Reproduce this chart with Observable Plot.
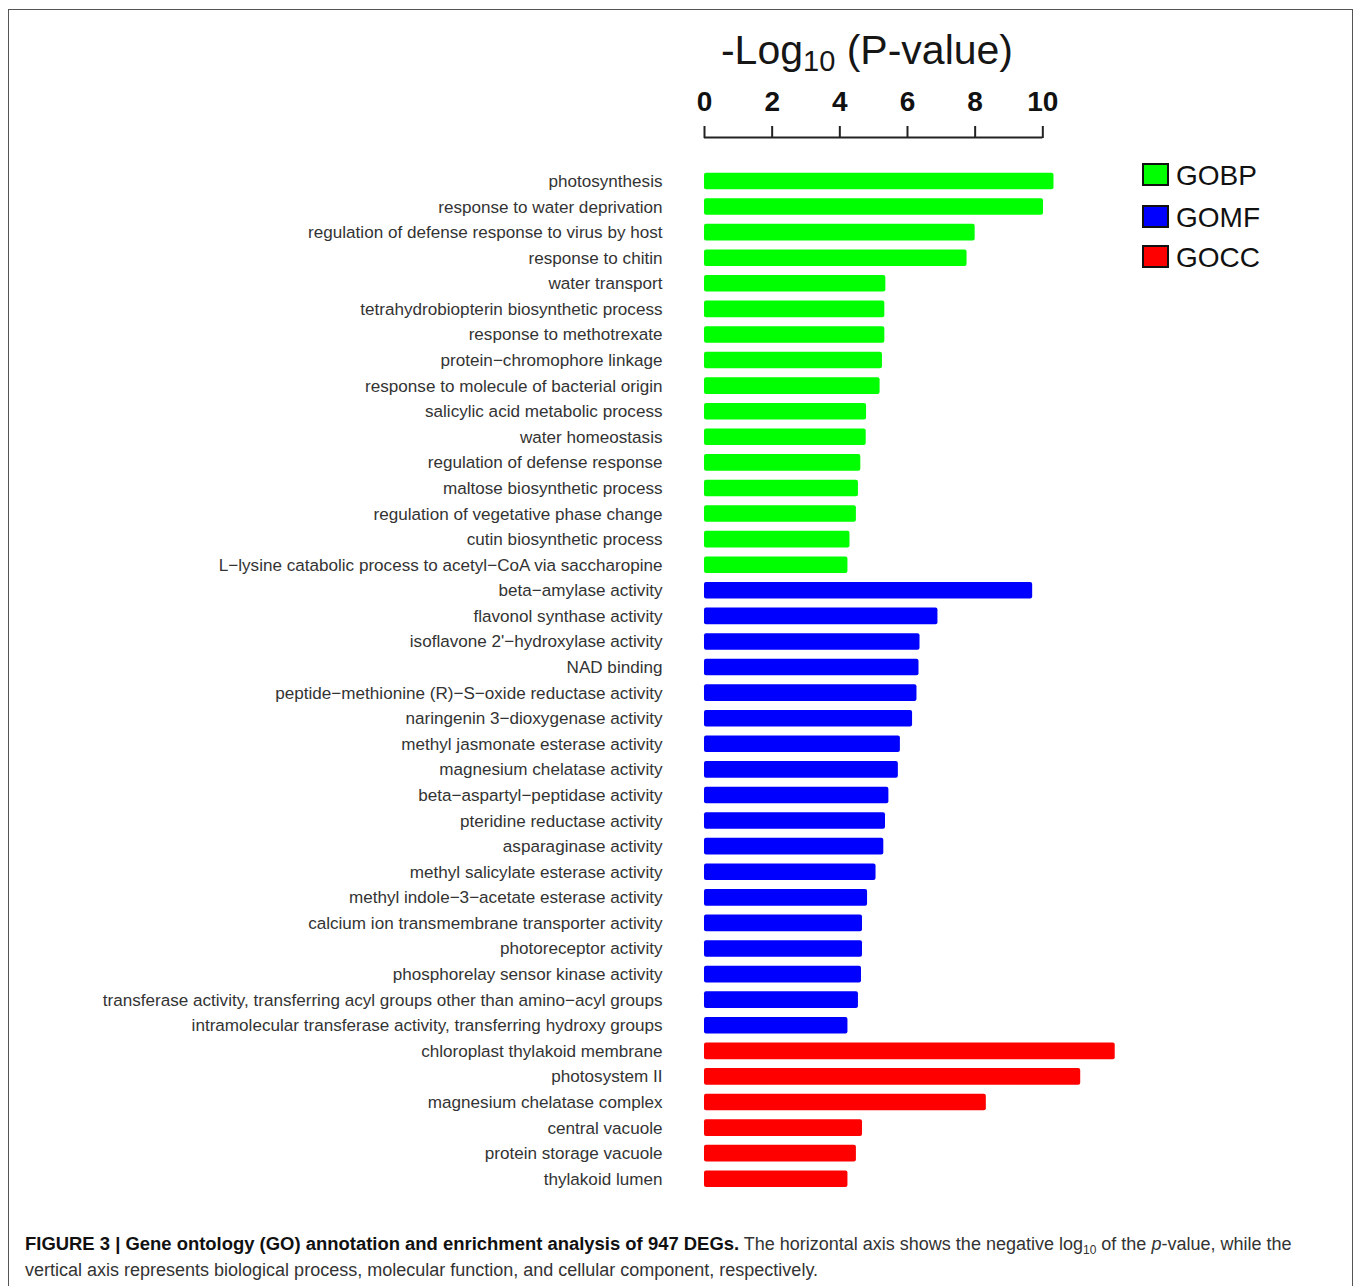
<!DOCTYPE html>
<html><head><meta charset="utf-8">
<script src="https://cdn.jsdelivr.net/npm/d3@7"></script>
<script src="https://cdn.jsdelivr.net/npm/@observablehq/plot@0.6"></script>
<style>
html,body{margin:0;padding:0;background:#fff;overflow:hidden;}
body{width:1357px;height:1286px;position:relative;font-family:"Liberation Sans",Arial,Helvetica,sans-serif;}
#frame{position:absolute;left:8px;top:9px;width:1345px;height:1300px;border:1px solid #555;box-sizing:border-box;}
#title{position:absolute;left:600px;width:534px;top:30px;text-align:center;font-size:41px;line-height:40px;color:#161616;white-space:nowrap;}
#title .sub{font-size:29px;position:relative;top:7px;}
#axis{position:absolute;left:0;top:0;}
#bars{position:absolute;left:0;top:145px;}
#legend{position:absolute;left:1142px;top:0;width:140px;height:300px;}
.lg-box{position:absolute;left:0;width:27px;height:23px;border:2px solid #111;box-sizing:border-box;}
.lg-text{position:absolute;left:34px;font-size:28px;line-height:28px;color:#111;white-space:nowrap;}
#caption{position:absolute;left:25px;top:1231px;font-size:18px;line-height:26px;color:#333;white-space:nowrap;}
#caption b{color:#111;font-size:18.45px;}
#caption .sub{font-size:12px;position:relative;top:4px;line-height:0;}
</style>
</head><body>
<div id="frame"></div>
<div id="title">-Log<span class="sub">10</span> (P-value)</div>
<div id="axis"></div>
<div id="bars"></div>
<div id="legend"></div>
<div id="caption"><b>FIGURE 3 | Gene ontology (GO) annotation and enrichment analysis of 947 DEGs.</b> The horizontal axis shows the negative log<span class="sub">10</span> of the <i>p</i>-value, while the<br>vertical axis represents biological process, molecular function, and cellular component, respectively.</div>
<script>
// ---- data ----
const groupNames = ["GOBP", "GOMF", "GOCC"];
const groupColors = ["#00ff00", "#0000ff", "#ff0000"];

const gobpTerms = [
  "photosynthesis",
  "response to water deprivation",
  "regulation of defense response to virus by host",
  "response to chitin",
  "water transport",
  "tetrahydrobiopterin biosynthetic process",
  "response to methotrexate",
  "protein\u2212chromophore linkage",
  "response to molecule of bacterial origin",
  "salicylic acid metabolic process",
  "water homeostasis",
  "regulation of defense response",
  "maltose biosynthetic process",
  "regulation of vegetative phase change",
  "cutin biosynthetic process",
  "L\u2212lysine catabolic process to acetyl\u2212CoA via saccharopine"
];
const gobpValues = [10.33, 10.02, 8.00, 7.76, 5.36, 5.33, 5.33, 5.26, 5.19, 4.79, 4.78, 4.62, 4.55, 4.49, 4.30, 4.24];

const gomfTerms = [
  "beta\u2212amylase activity",
  "flavonol synthase activity",
  "isoflavone 2'\u2212hydroxylase activity",
  "NAD binding",
  "peptide\u2212methionine (R)\u2212S\u2212oxide reductase activity",
  "naringenin 3\u2212dioxygenase activity",
  "methyl jasmonate esterase activity",
  "magnesium chelatase activity",
  "beta\u2212aspartyl\u2212peptidase activity",
  "pteridine reductase activity",
  "asparaginase activity",
  "methyl salicylate esterase activity",
  "methyl indole\u22123\u2212acetate esterase activity",
  "calcium ion transmembrane transporter activity",
  "photoreceptor activity",
  "phosphorelay sensor kinase activity",
  "transferase activity, transferring acyl groups other than amino\u2212acyl groups",
  "intramolecular transferase activity, transferring hydroxy groups"
];
const gomfValues = [9.70, 6.90, 6.37, 6.34, 6.28, 6.15, 5.79, 5.73, 5.45, 5.35, 5.30, 5.07, 4.82, 4.67, 4.67, 4.64, 4.55, 4.24];

const goccTerms = [
  "chloroplast thylakoid membrane",
  "photosystem II",
  "magnesium chelatase complex",
  "central vacuole",
  "protein storage vacuole",
  "thylakoid lumen"
];
const goccValues = [12.14, 11.12, 8.33, 4.67, 4.49, 4.24];

const tickValues = [0, 2, 4, 6, 8, 10];

// ---- build table ----
const data = [
  ...gobpTerms.map((t, i) => ({term: t, value: gobpValues[i], group: "GOBP"})),
  ...gomfTerms.map((t, i) => ({term: t, value: gomfValues[i], group: "GOMF"})),
  ...goccTerms.map((t, i) => ({term: t, value: goccValues[i], group: "GOCC"}))
];
const terms = data.map(d => d.term);

const W = 1357, ML = 704, MR = 230.1;
const xDomain = [0, 12.5];
const font = '"Liberation Sans", Arial, Helvetica, sans-serif';

const axis = Plot.plot({
  width: W, height: 145,
  marginLeft: ML, marginRight: MR, marginTop: 137, marginBottom: 0,
  style: {fontFamily: font, background: "transparent", overflow: "visible"},
  x: {domain: xDomain, axis: null},
  y: {domain: [0, 1], axis: null},
  marks: [
    Plot.ruleY([1], {x1: 0, x2: 10, stroke: "#222", strokeWidth: 2}),
    Plot.axisX({anchor: "top", ticks: tickValues, tickSize: 12, tickPadding: 15,
      tickFormat: d => String(d), fontSize: 28, fontWeight: "bold",
      stroke: "#222", strokeWidth: 2, fill: "#111", label: null})
  ]
});
document.getElementById("axis").append(axis);

const bars = Plot.plot({
  width: W, height: 1061,
  marginLeft: ML, marginRight: MR, marginTop: 18.7, marginBottom: 10,
  style: {fontFamily: font, background: "transparent", overflow: "visible"},
  x: {domain: xDomain, axis: null},
  y: {domain: terms, padding: 0.35, round: false, axis: null},
  color: {domain: groupNames, range: groupColors},
  marks: [
    Plot.barX(data, {x: "value", y: "term", fill: "group", rx: 2}),
    Plot.axisY({tickSize: 0, tickPadding: 42, fontSize: 17.1, fill: "#333", label: null})
  ]
});
document.getElementById("bars").append(bars);

// legend
const lg = document.getElementById("legend");
const boxTops = [163, 205, 245];
groupNames.forEach((g, i) => {
  const b = document.createElement("div");
  b.className = "lg-box";
  b.style.top = boxTops[i] + "px";
  b.style.background = groupColors[i];
  lg.append(b);
  const t = document.createElement("div");
  t.className = "lg-text";
  t.style.top = (boxTops[i] - 1) + "px";
  t.textContent = g;
  lg.append(t);
});
</script>
</body></html>
